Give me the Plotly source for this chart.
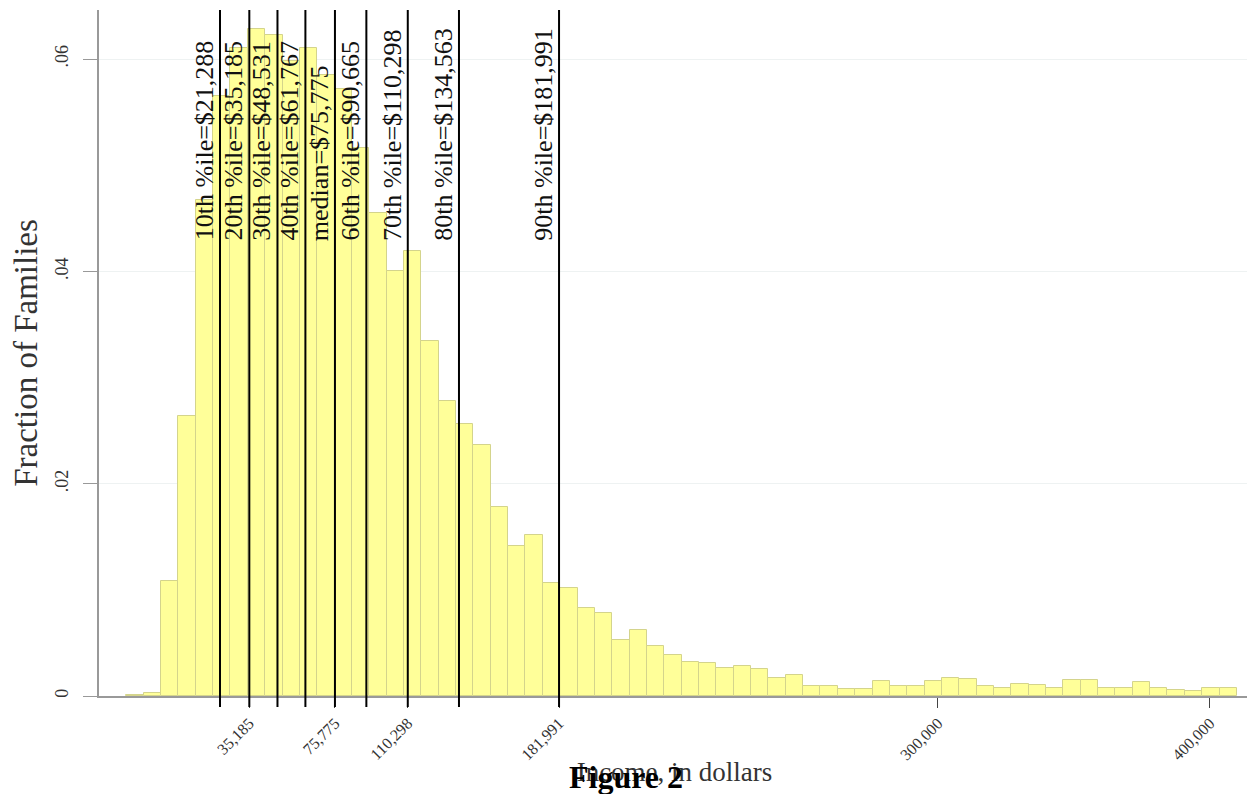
import plotly.graph_objects as go

# ---- data ----
bin_start = -23100          # left edge of first income bin (dollars)
bin_width = 8225            # width of every income bin (dollars)
fractions = [
    0.0001, 0.0003, 0.0108, 0.0264, 0.0467, 0.0565, 0.0610, 0.0628, 0.0623, 0.0598,
    0.0610, 0.0585, 0.0572, 0.0516, 0.0455, 0.0400, 0.0419, 0.0334, 0.0278, 0.0256,
    0.0236, 0.0178, 0.0141, 0.0152, 0.0106, 0.0102, 0.0083, 0.0078, 0.0053, 0.0062,
    0.0047, 0.0039, 0.0032, 0.0031, 0.0026, 0.0028, 0.0025, 0.0017, 0.0020, 0.0009,
    0.0009, 0.0007, 0.0007, 0.0014, 0.0009, 0.0009, 0.0014, 0.0017, 0.0016, 0.0009,
    0.0008, 0.0011, 0.0010, 0.0008, 0.0015, 0.0015, 0.0008, 0.0008, 0.0013, 0.0008,
    0.0006, 0.0005, 0.0008, 0.0008,
]
pct_names = ["10th %ile", "20th %ile", "30th %ile", "40th %ile", "median",
             "60th %ile", "70th %ile", "80th %ile", "90th %ile"]
pct_values = [21288, 35185, 48531, 61767, 75775, 90665, 110298, 134563, 181991]

# x-axis tick labels as printed on the reference and where they sit on its axis
tick_positions = [35185, 75775, 110298, 181991, 361600, 490500]
tick_labels = ["35,185", "75,775", "110,298", "181,991", "300,000", "400,000"]

y_tick_vals = [0, 0.02, 0.04, 0.06]
y_tick_text = ["0", ".02", ".04", ".06"]

# ---- figure ----
centers = [bin_start + (i + 0.5) * bin_width for i in range(len(fractions))]

SERIF = "Liberation Serif, Times New Roman, serif"

fig = go.Figure()
fig.add_trace(go.Bar(
    x=centers, y=fractions, width=bin_width,
    marker=dict(color="#ffff99", line=dict(color="#d4d48c", width=1)),
    hoverinfo="x+y", showlegend=False,
))

shapes = []
annotations = []
for name, val in zip(pct_names, pct_values):
    shapes.append(dict(type="line", xref="x", yref="paper", x0=val, x1=val,
                       y0=-0.016, y1=1.0, line=dict(color="black", width=2)))
    annotations.append(dict(
        x=val, xref="x", y=0.0427, yref="y",
        text=f"{name}=${val:,}", textangle=-90, showarrow=False,
        xanchor="right", yanchor="bottom", xshift=1,
        font=dict(family=SERIF, size=26, color="#111"),
    ))

annotations.append(dict(
    x=0.4066, xref="paper", y=-0.118, yref="paper",
    text="<b>Figure 2</b>", showarrow=False, xanchor="left", yanchor="middle",
    font=dict(family=SERIF, size=32, color="black"),
))

fig.update_layout(
    width=1247, height=786,
    margin=dict(l=91, r=5, t=2, b=98),
    paper_bgcolor="white", plot_bgcolor="white",
    bargap=0, shapes=shapes, annotations=annotations,
    font=dict(family=SERIF, color="#222"),
    xaxis=dict(
        range=[-36066, 509508], automargin=False,
        tickmode="array", tickvals=tick_positions, ticktext=tick_labels,
        tickangle=-45, tickfont=dict(family=SERIF, size=16, color="#333"),
        ticks="outside", ticklen=10, tickcolor="#444",
        showgrid=False, zeroline=False,
        showline=True, linecolor="#999", linewidth=1.5,
        title=dict(text="Income, in dollars", font=dict(family=SERIF, size=27, color="#333"),
                   standoff=0),
    ),
    yaxis=dict(
        range=[0, 0.06462], automargin=False,
        tickmode="array", tickvals=y_tick_vals, ticktext=y_tick_text,
        tickangle=-90, tickfont=dict(family=SERIF, size=18, color="#333"),
        ticks="outside", ticklen=14, tickcolor="#999", ticklabelstandoff=8,
        showgrid=True, gridcolor="#eef2f2", gridwidth=1,
        zeroline=False, showline=True, linecolor="#999", linewidth=2,
        title=dict(text="Fraction of Families", font=dict(family=SERIF, size=33, color="#333"),
                   standoff=14),
    ),
)

fig.write_html("out.html")
